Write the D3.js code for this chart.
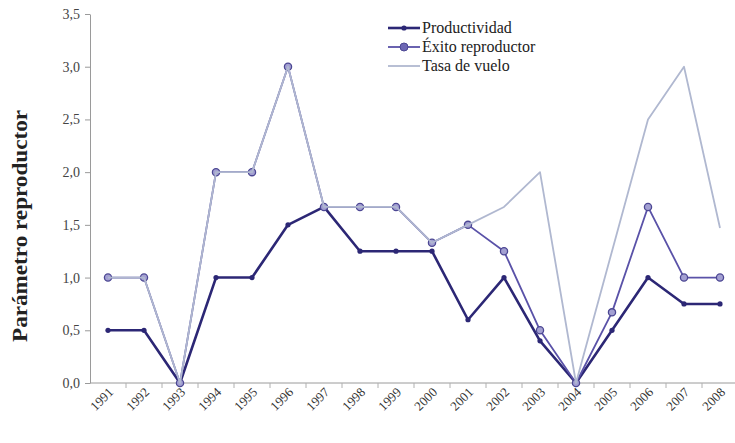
<!DOCTYPE html>
<html>
<head>
<meta charset="utf-8">
<script src="https://cdn.jsdelivr.net/npm/d3@7"></script>
<style>
  html, body { margin: 0; padding: 0; background: #fff; }
  svg { display: block; }
</style>
</head>
<body>
<svg id="chart" width="735" height="443"></svg>
<script>
const years = ["1991","1992","1993","1994","1995","1996","1997","1998","1999","2000","2001","2002","2003","2004","2005","2006","2007","2008"];
const productividad = [0.5,0.5,0,1.0,1.0,1.5,1.67,1.25,1.25,1.25,0.6,1.0,0.4,0,0.5,1.0,0.75,0.75];
const exito = [1.0,1.0,0,2.0,2.0,3.0,1.67,1.67,1.67,1.33,1.5,1.25,0.5,0,0.67,1.67,1.0,1.0];
const tasa = [1.0,1.0,0,2.0,2.0,3.0,1.67,1.67,1.67,1.33,1.5,1.67,2.0,0,1.25,2.5,3.0,1.47];
const yTicks = [0,0.5,1.0,1.5,2.0,2.5,3.0,3.5];
const seriesNames = ["Productividad","Éxito reproductor","Tasa de vuelo"];

const svg = d3.select("#chart");
const serif = "'Liberation Serif', 'DejaVu Serif', serif";

const x = d3.scaleBand().domain(years).range([90, 738]).padding(0);
const y = d3.scaleLinear().domain([0, 3.5]).range([383, 14]);
const cx = d => x(d) + x.bandwidth() / 2;

// Y axis
const yAxis = d3.axisLeft(y).tickValues(yTicks).tickSize(5).tickSizeOuter(0)
  .tickFormat(d => d3.format(".1f")(d).replace(".", ","));
const gy = svg.append("g").attr("transform", "translate(90,0)").call(yAxis);
gy.select(".domain").attr("stroke", "#9a9a9a");
gy.selectAll(".tick line").attr("stroke", "#9a9a9a");
gy.selectAll(".tick text").attr("font-family", serif).attr("font-size", 14).attr("fill", "#444").attr("dx", -2);

// X axis (ticks between categories)
const gx = svg.append("g").attr("transform", "translate(0,383)");
gx.append("line").attr("x1", 90).attr("x2", 735).attr("stroke", "#9a9a9a");
gx.selectAll("line.tk").data(years.slice(1)).join("line").attr("class", "tk")
  .attr("x1", d => x(d)).attr("x2", d => x(d)).attr("y1", 0).attr("y2", 5)
  .attr("stroke", "#b0b0b0");
gx.selectAll("text").data(years).join("text")
  .attr("font-family", serif).attr("font-size", 13).attr("fill", "#333")
  .attr("text-anchor", "end")
  .attr("transform", d => `translate(${cx(d) + 6},${10}) rotate(-45)`)
  .text(d => d);

// Y title
svg.append("text")
  .attr("transform", "translate(27,226) rotate(-90)")
  .attr("text-anchor", "middle")
  .attr("font-family", serif).attr("font-weight", "bold").attr("font-size", 20)
  .attr("fill", "#222")
  .attr("textLength", 232).attr("lengthAdjust", "spacingAndGlyphs")
  .text("Parámetro reproductor");

const line = d3.line().x((d, i) => cx(years[i])).y(d => y(d));

const colProd = "#2c2775", colExito = "#5a52a8", colTasa = "#b0b8d0";

// Productividad
svg.append("path").datum(productividad).attr("d", line)
  .attr("fill", "none").attr("stroke", colProd).attr("stroke-width", 2.6).attr("stroke-linejoin", "round");
svg.selectAll("circle.prod").data(productividad).join("circle").attr("class", "prod")
  .attr("cx", (d, i) => cx(years[i])).attr("cy", d => y(d)).attr("r", 2.6).attr("fill", colProd);

// Éxito reproductor
svg.append("path").datum(exito).attr("d", line)
  .attr("fill", "none").attr("stroke", colExito).attr("stroke-width", 1.8).attr("stroke-linejoin", "round");
svg.selectAll("circle.exito").data(exito).join("circle").attr("class", "exito")
  .attr("cx", (d, i) => cx(years[i])).attr("cy", d => y(d)).attr("r", 3.6)
  .attr("fill", "#a3a0d2").attr("stroke", "#4c4793").attr("stroke-width", 1.3);

// Tasa de vuelo
svg.append("path").datum(tasa).attr("d", line)
  .attr("fill", "none").attr("stroke", colTasa).attr("stroke-width", 1.8).attr("stroke-linejoin", "round");

// Legend
const lg = svg.append("g").attr("transform", "translate(388,28)");
const rows = [
  {name: seriesNames[0], col: colProd, w: 2.6, m: "dot"},
  {name: seriesNames[1], col: colExito, w: 1.8, m: "circle"},
  {name: seriesNames[2], col: colTasa, w: 1.8, m: null}
];
rows.forEach((r, i) => {
  const g = lg.append("g").attr("transform", `translate(0,${i * 19})`);
  g.append("line").attr("x1", 0).attr("x2", 32).attr("stroke", r.col).attr("stroke-width", r.w);
  if (r.m === "dot") g.append("circle").attr("cx", 16).attr("r", 2.6).attr("fill", r.col);
  if (r.m === "circle") g.append("circle").attr("cx", 16).attr("r", 4).attr("fill", "#6d67b4").attr("stroke", "#4c4793");
  g.append("text").attr("x", 34).attr("y", 5).attr("font-family", serif).attr("font-size", 16).attr("fill", "#222").text(r.name);
});
</script>
</body>
</html>
